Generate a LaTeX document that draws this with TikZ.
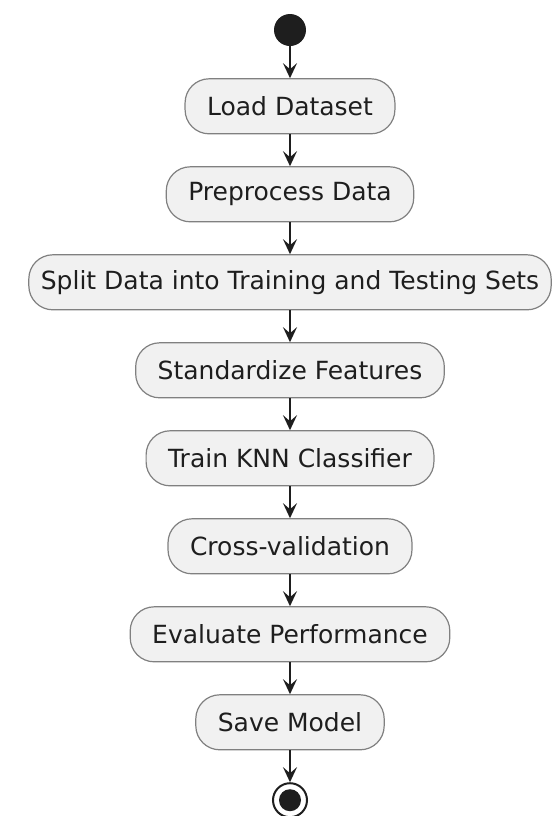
\documentclass[tikz,border=0pt]{standalone}
\usepackage{fontspec}
\setmainfont{DejaVu Sans}
\usepackage{tikz}
\usetikzlibrary{arrows.meta,positioning}
\definecolor{actfill}{HTML}{F1F1F1}
\definecolor{actline}{HTML}{808080}
\definecolor{ink}{HTML}{1E1E1E}

\begin{document}
\begin{tikzpicture}[
      activity/.style={draw=actline, fill=actfill, rounded corners=12pt, line width=0.6pt,
         minimum height=27.5pt, inner xsep=11pt, text=ink, font=\fontsize{12.5}{15}\selectfont},
      flow/.style={draw=ink, line width=0.9pt, -{Stealth[length=7.5pt,width=7pt,inset=3pt]}},
      node distance=15.9pt]
      \useasboundingbox (0,0) rectangle (278pt,-408pt);
      \node[name=start, circle, fill=ink, minimum size=16pt, inner sep=0pt] at (145pt,-15pt){};
      \node[name=load, activity, below=of start]{Load Dataset};
      \node[name=prep, activity, below=of load]{Preprocess Data};
      \node[name=split, activity, inner xsep=6pt, below=of prep]{Split Data into Training and Testing Sets};
      \node[name=std, activity, below=of split]{Standardize Features};
      \node[name=train, activity, below=of std]{Train KNN Classifier};
      \node[name=cv, activity, below=of train]{Cross-validation};
      \node[name=eval, activity, below=of cv]{Evaluate Performance};
      \node[name=save, activity, below=of eval]{Save Model};
      \node[name=stop, circle, draw=ink, line width=1pt, fill=white, minimum size=17pt, inner sep=0pt, below=of save]{};
      \fill[ink] (stop.center) circle (5.5pt);
      \draw[flow] (start) -- (load);
      \draw[flow] (load) -- (prep);
      \draw[flow] (prep) -- (split);
      \draw[flow] (split) -- (std);
      \draw[flow] (std) -- (train);
      \draw[flow] (train) -- (cv);
      \draw[flow] (cv) -- (eval);
      \draw[flow] (eval) -- (save);
      \draw[flow] (save) -- (stop);
   \end{tikzpicture}
\end{document}
